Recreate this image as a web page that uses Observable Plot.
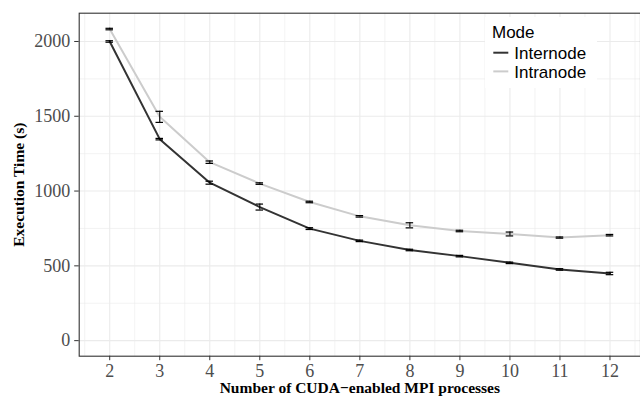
<!DOCTYPE html>
<html>
<head>
<meta charset="utf-8">
<script src="https://cdn.jsdelivr.net/npm/d3@7"></script>
<script src="https://cdn.jsdelivr.net/npm/@observablehq/plot@0.6"></script>
<style>
  html, body { margin: 0; padding: 0; background: #fff; }
  #wrap { position: relative; width: 640px; height: 397px; }
  #legend { position: absolute; left: 0; top: 0; pointer-events: none; overflow: visible; }
</style>
</head>
<body>
<div id="wrap"></div>
<script>
// ---- data ----
const processes = [2, 3, 4, 5, 6, 7, 8, 9, 10, 11, 12];
const internodeTime = [2000, 1347, 1056, 893, 749, 667, 606, 565, 520, 476, 449];
const internodeErr  = [5, 5, 10, 20, 6, 5, 5, 5, 5, 5, 8];
const intranodeTime = [2083, 1496, 1193, 1050, 927, 831, 771, 733, 713, 689, 705];
const intranodeErr  = [5, 37, 8, 5, 5, 5, 17, 5, 13, 4, 5];
const modes = ["Internode", "Intranode"];
const modeColors = ["#333333", "#cccccc"];
const xTicks = [2, 3, 4, 5, 6, 7, 8, 9, 10, 11, 12];
const xMinor = [1.5, 2.5, 3.5, 4.5, 5.5, 6.5, 7.5, 8.5, 9.5, 10.5, 11.5, 12.5];
const yTicks = [0, 500, 1000, 1500, 2000];
const yMinor = [250, 750, 1250, 1750];
const xTitle = "Number of CUDA\u2212enabled MPI processes";
const yTitle = "Execution Time (s)";
const legendTitle = "Mode";

const rows = [];
processes.forEach((p, i) => {
  rows.push({x: p, mode: modes[0], t: internodeTime[i], e: internodeErr[i]});
});
processes.forEach((p, i) => {
  rows.push({x: p, mode: modes[1], t: intranodeTime[i], e: intranodeErr[i]});
});

const capHalf = 0.075;

const chart = Plot.plot({
  width: 640,
  height: 397,
  marginLeft: 78.7,
  marginRight: 0,
  marginTop: 12.7,
  marginBottom: 41.3,
  style: { fontFamily: "'Liberation Serif', 'Times New Roman', serif", fontSize: "18px", background: "#fff", overflow: "visible" },
  x: { domain: [1.39, 12.61] },
  y: { domain: [-104, 2189] },
  color: { domain: modes, range: modeColors },
  marks: [
    Plot.ruleX(xMinor, { stroke: "#ebebeb", strokeWidth: 0.6 }),
    Plot.ruleY(yMinor, { stroke: "#ebebeb", strokeWidth: 0.6 }),
    Plot.ruleX(xTicks, { stroke: "#ebebeb", strokeWidth: 1.1 }),
    Plot.ruleY(yTicks, { stroke: "#ebebeb", strokeWidth: 1.1 }),
    Plot.line(rows, { x: "x", y: "t", z: "mode", stroke: "mode", strokeWidth: 2 }),
    Plot.ruleX(rows, { x: "x", y1: d => d.t - d.e, y2: d => d.t + d.e, stroke: "#000", strokeWidth: 1.1 }),
    Plot.ruleY(rows, { y: d => d.t - d.e, x1: d => d.x - capHalf, x2: d => d.x + capHalf, stroke: "#000", strokeWidth: 1.2 }),
    Plot.ruleY(rows, { y: d => d.t + d.e, x1: d => d.x - capHalf, x2: d => d.x + capHalf, stroke: "#000", strokeWidth: 1.2 }),
    Plot.frame({ stroke: "#333", strokeWidth: 1.1 }),
    Plot.axisX(xTicks, { tickSize: 4.5, tickPadding: 3.5, stroke: "#333", fill: "#4d4d4d", label: null, fontSize: 18, tickFormat: d => String(d) }),
    Plot.axisY(yTicks, { tickSize: 4.5, tickPadding: 4.5, stroke: "#333", fill: "#4d4d4d", label: null, fontSize: 18, tickFormat: d => String(d) }),
    Plot.text([xTitle], { text: d => d, frameAnchor: "bottom", dy: 32.3, lineAnchor: "middle", textAnchor: "middle", fontWeight: "bold", fontSize: 15.5, fill: "#000" }),
    Plot.text([yTitle], { text: d => d, frameAnchor: "left", dx: -60.4, rotate: -90, lineAnchor: "middle", textAnchor: "middle", fontWeight: "bold", fontSize: 15.5, fill: "#000" })
  ]
});

const wrap = document.getElementById("wrap");
wrap.appendChild(chart);

// legend (SVG overlay, drawn inside the panel's top-right corner)
const svg = d3.select(wrap).append("svg")
  .attr("id", "legend").attr("width", 640).attr("height", 397)
  .style("font-family", "'Liberation Sans', Arial, sans-serif").style("font-size", "17px");
svg.append("rect").attr("x", 485).attr("y", 17).attr("width", 112).attr("height", 71).attr("fill", "#fff");
svg.append("text").attr("x", 492).attr("y", 38.3).attr("fill", "#000").text(legendTitle);
modes.forEach((m, i) => {
  const yLine = 52.7 + i * 18.7;
  svg.append("line").attr("x1", 493.3).attr("x2", 508.3).attr("y1", yLine).attr("y2", yLine)
    .attr("stroke", modeColors[i]).attr("stroke-width", 2);
  svg.append("text").attr("x", 514.3).attr("y", yLine + 6.5).attr("fill", "#000").text(m);
});
</script>
</body>
</html>
